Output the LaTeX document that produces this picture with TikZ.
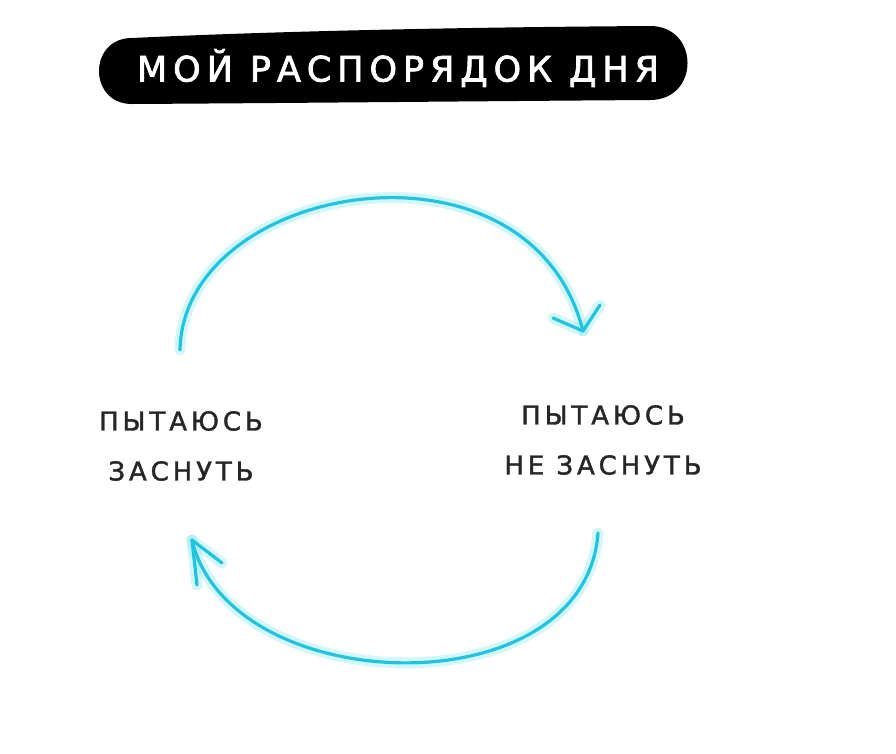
\documentclass[tikz,border=0pt]{standalone}
\usepackage{fontspec}
\setmainfont{DejaVu Sans}
\newfontfamily\titlefont[LetterSpace=17,FakeBold=2]{DejaVu Sans}
\newfontfamily\labelfont[LetterSpace=15,FakeBold=1.5]{DejaVu Sans}
\definecolor{arccyan}{HTML}{22C3DC}
\definecolor{glowcyan}{HTML}{6FE3F0}
\tikzset{
  glow/.style={draw=glowcyan, line width=11pt, opacity=0.3, line cap=round, line join=round},
  arcline/.style={draw=arccyan, line width=3.2pt, line cap=round, line join=round},
  lbl/.style={font=\labelfont\fontsize{26}{50}\selectfont, text=black!85, align=center}
}
\begin{document}
\begin{tikzpicture}[x=1pt,y=-1pt]
\useasboundingbox (0,0) rectangle (896,753);
\fill[white] (0,0) rectangle (896,753);
% title pill
\fill[black] (132,38) .. controls (300,30) and (500,27) .. (650,26)
  .. controls (700,26) and (700,100) .. (650,100)
  .. controls (500,101) and (300,103) .. (132,104)
  .. controls (88,104) and (88,38) .. (132,38) -- cycle;
\node[text=white, font=\titlefont\fontsize{35}{40}\selectfont] (title) at (398,68) {МОЙ РАСПОРЯДОК ДНЯ};
% labels
\node[lbl] (left) at (181,446) {ПЫТАЮСЬ\\ЗАСНУТЬ};
\node[lbl] (right) at (603,440) {ПЫТАЮСЬ\\НЕ ЗАСНУТЬ};
% arc coordinates
\coordinate (a1) at (180,350);
\coordinate (t1) at (583,331);
\coordinate (a2) at (598,533);
\coordinate (t2) at (192,540);
\foreach \st in {glow,arcline}{
  \path[\st] (a1) .. controls (183,182) and (530,122) .. (t1);
  \path[\st] (553,318) -- (t1) -- (600,305);
  \path[\st] (a2) .. controls (585,710) and (230,700) .. (t2);
  \path[\st] (222,563) -- (t2) -- (197,585);
}
\end{tikzpicture}
\end{document}
